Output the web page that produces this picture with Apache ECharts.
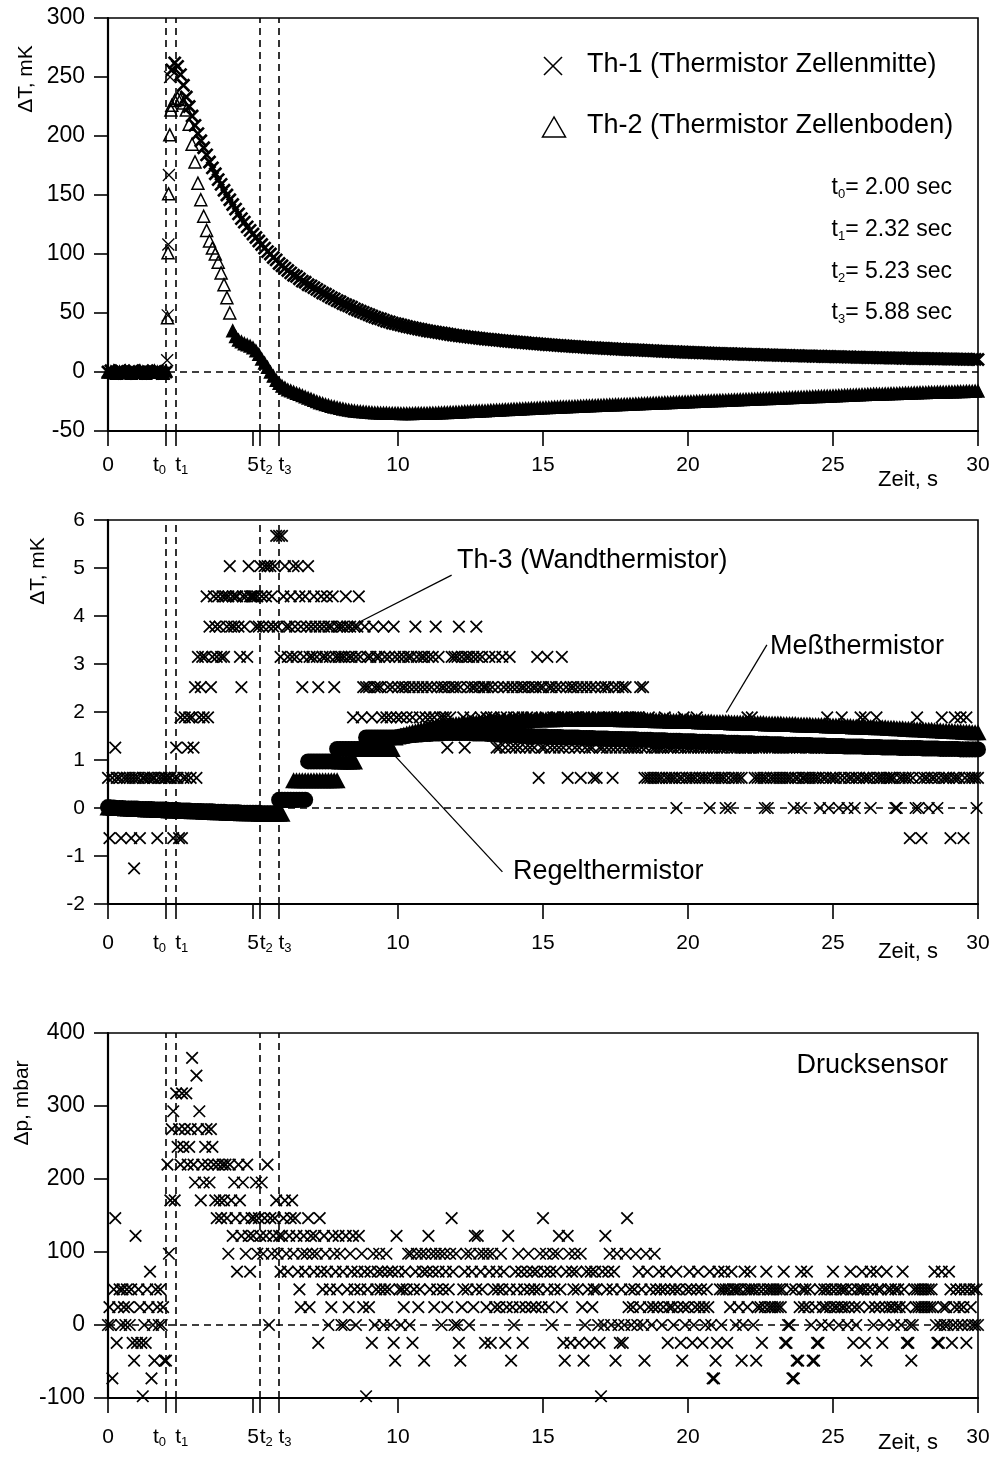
<!DOCTYPE html>
<html>
<head>
<meta charset="utf-8">
<title>Thermistor- und Drucksignale</title>
<script src="https://cdn.jsdelivr.net/npm/echarts@6/dist/echarts.min.js"></script>
<style>
  html, body { margin: 0; padding: 0; background: #fff; }
  #chart { width: 994px; height: 1457px; }
</style>
</head>
<body>
<div id="chart"></div>
<script>
// ---------------------------------------------------------------
// Measured signals after the pulse (time axis in seconds)
// ---------------------------------------------------------------

// event times t0..t3 (s)
const markTimes = [2.00, 2.32, 5.23, 5.88];
// x-axis tick positions (s)
const xTickValues = [0, 2.00, 2.32, 5, 5.23, 5.88, 10, 15, 20, 25, 30];

// sampling steps (s)
const DT_CURVE = 0.1;   // Th-1, Th-2, Regel-/Meßthermistor
const DT_RAW = 0.05;    // Th-3 and pressure sensor (raw ADC counts)

// --- Panel 1: Th-1 (Zellenmitte), mK -------------------------------
const th1Base = [0,1,-1,0,1,0,-1,0,0,1,-1,0,1,0,0,-1,0,1,0,-1,0];          // t = 0 .. 2.0
const th1Rise = [[2.04,10],[2.06,48],[2.08,108],[2.10,167],[2.14,250]];   // [t, mK]
const th1Decay = [                                                       // t = 2.2 .. 30.0
  256,262,259,252,243,233,225,217,209,
  202,196,190,184,178,173,168,163,159,154,
  150,146,142,138,134,130,127,123,120,117,
  114,111,108,105,102,100,97,95,92,90,
  88,86,84,82,81,79,77,76,74,73,
  71.5,70,68.5,67,66,64.5,63,62,60.5,59.5,
  58,57,56,55,53.5,52.5,51.5,50.5,49.5,48.5,
  47.5,46.5,45.5,45,44,43,42.5,41.5,41,40.5,
  39.8,39.2,38.6,38,37.5,37,36.5,36,35.5,35,
  34.6,34.2,33.8,33.4,33,32.6,32.2,31.8,31.4,31,
  30.7,30.4,30.1,29.8,29.5,29.2,28.9,28.6,28.3,28,
  27.8,27.5,27.3,27,26.8,26.6,26.3,26.1,25.9,25.6,
  25.4,25.2,25,24.8,24.5,24.3,24.1,23.9,23.7,23.5,
  23.3,23.1,23,22.8,22.6,22.4,22.2,22.1,21.9,21.7,
  21.6,21.4,21.3,21.1,20.9,20.8,20.6,20.5,20.3,20.2,
  20.1,19.9,19.8,19.7,19.5,19.4,19.3,19.2,19,18.9,
  18.8,18.7,18.6,18.5,18.3,18.2,18.1,18,17.9,17.7,
  17.6,17.5,17.4,17.3,17.2,17.1,17,16.9,16.8,16.7,
  16.6,16.5,16.4,16.3,16.2,16.2,16.1,16,15.9,15.8,
  15.7,15.6,15.6,15.5,15.4,15.3,15.2,15.2,15.1,15,
  14.9,14.9,14.8,14.7,14.6,14.6,14.5,14.4,14.4,14.3,
  14.2,14.2,14.1,14,14,13.9,13.8,13.8,13.7,13.6,
  13.6,13.5,13.4,13.4,13.3,13.3,13.2,13.1,13.1,13,
  12.9,12.9,12.8,12.8,12.7,12.7,12.6,12.5,12.5,12.4,
  12.4,12.3,12.3,12.2,12.2,12.1,12.1,12,12,11.9,
  11.9,11.8,11.8,11.7,11.7,11.6,11.6,11.5,11.5,11.4,
  11.4,11.3,11.3,11.3,11.2,11.2,11.1,11.1,11.1,11,
  11,10.9,10.9,10.9,10.8,10.8,10.7,10.7,10.7,10.6
];

// --- Panel 1: Th-2 (Zellenboden), mK -------------------------------
const th2Base = [0,0,1,-1,0,0,1,0,-1,0,0,1,0,-1,0,0,1,0,0,-1,1];          // t = 0 .. 2.0
const th2Rise = [[2.05,46],[2.07,101],[2.09,151],[2.13,201],[2.17,222]];  // [t, mK]
const th2Decay = [                                                       // t = 2.2 .. 30.0
  226,230,232,231,228,222,210,193,178,
  160,146,132,120,111,105,100,93,84,74,
  63,50,35,30,27,25.5,24,23,22,20.5,
  18,15,11,7.5,4,0,-3.5,-7,-9.5,-12,
  -13.5,-15,-16,-17,-18,-19,-20,-21,-22,-23,
  -24,-25,-26,-26.8,-27.5,-28.2,-29,-29.6,-30.2,-30.8,
  -31.3,-31.8,-32.2,-32.6,-33,-33.3,-33.6,-33.8,-34,-34.2,
  -34.4,-34.5,-34.6,-34.7,-34.8,-34.9,-35,-35,-35.1,-35.1,
  -35.2,-35.2,-35.2,-35.2,-35.2,-35.1,-35.1,-35.1,-35,-35,
  -34.9,-34.8,-34.7,-34.6,-34.5,-34.4,-34.3,-34.2,-34.1,-34,
  -33.9,-33.8,-33.6,-33.5,-33.4,-33.3,-33.2,-33,-32.9,-32.8,
  -32.7,-32.5,-32.4,-32.3,-32.2,-32,-31.9,-31.8,-31.7,-31.5,
  -31.4,-31.3,-31.2,-31,-30.9,-30.8,-30.7,-30.5,-30.4,-30.3,
  -30.2,-30.1,-30,-29.8,-29.7,-29.6,-29.5,-29.4,-29.3,-29.2,
  -29.1,-29,-28.9,-28.8,-28.7,-28.6,-28.5,-28.4,-28.3,-28.2,
  -28.1,-28,-27.9,-27.8,-27.7,-27.6,-27.5,-27.4,-27.3,-27.2,
  -27.1,-27,-26.9,-26.8,-26.7,-26.6,-26.5,-26.4,-26.3,-26.2,
  -26.1,-26,-25.9,-25.8,-25.7,-25.6,-25.5,-25.4,-25.3,-25.2,
  -25.1,-25,-24.9,-24.8,-24.7,-24.6,-24.5,-24.4,-24.3,-24.2,
  -24.1,-24,-23.9,-23.8,-23.7,-23.6,-23.5,-23.4,-23.3,-23.2,
  -23.1,-23,-22.9,-22.8,-22.7,-22.6,-22.5,-22.4,-22.3,-22.2,
  -22.1,-22,-21.9,-21.8,-21.7,-21.6,-21.5,-21.4,-21.3,-21.2,
  -21.1,-21,-20.9,-20.8,-20.7,-20.6,-20.5,-20.4,-20.3,-20.2,
  -20.1,-20,-19.9,-19.8,-19.7,-19.6,-19.5,-19.4,-19.3,-19.2,
  -19.1,-19,-18.9,-18.8,-18.7,-18.7,-18.6,-18.5,-18.4,-18.3,
  -18.2,-18.2,-18.1,-18,-17.9,-17.8,-17.8,-17.7,-17.6,-17.5,
  -17.5,-17.4,-17.3,-17.2,-17.2,-17.1,-17,-16.9,-16.9,-16.8,
  -16.7,-16.7,-16.6,-16.5,-16.5,-16.4,-16.3,-16.3,-16.2,-16.1
];

// --- Panel 2: Regelthermistor, mK (t = 0 .. 30, step DT_CURVE) ------
const regel = [
  0.02,0.01,0.01,0,0,0,-0.01,-0.01,-0.01,-0.01,
  -0.01,-0.02,-0.02,-0.02,-0.02,-0.02,-0.03,-0.03,-0.03,-0.03,
  -0.03,-0.04,-0.04,-0.04,-0.04,-0.05,-0.05,-0.05,-0.05,-0.06,
  -0.06,-0.06,-0.06,-0.07,-0.07,-0.07,-0.07,-0.08,-0.08,-0.08,
  -0.08,-0.09,-0.09,-0.09,-0.09,-0.09,-0.1,-0.1,-0.1,-0.1,
  -0.1,-0.1,-0.1,-0.11,-0.11,-0.11,-0.11,-0.11,-0.11,
  0.17,0.17,0.17,0.17,0.17,0.17,0.17,0.17,0.17,0.17,
  0.97,0.97,0.97,0.97,0.97,0.97,0.97,0.97,0.97,0.97,
  1.23,1.23,1.23,1.23,1.23,1.23,1.23,1.23,1.23,1.23,
  1.47,1.47,1.47,1.47,1.47,1.47,1.47,1.47,1.47,1.47,1.47,
  1.48,1.49,1.5,1.5,1.51,1.52,1.52,1.53,1.53,1.54,
  1.54,1.54,1.55,1.55,1.55,1.55,1.56,1.56,1.56,1.56,
  1.56,1.56,1.56,1.56,1.56,1.56,1.55,1.55,1.55,1.55,
  1.55,1.54,1.54,1.54,1.53,1.53,1.53,1.52,1.52,1.52,
  1.52,1.51,1.51,1.51,1.5,1.5,1.5,1.49,1.49,1.49,
  1.49,1.49,1.48,1.48,1.48,1.48,1.48,1.47,1.47,1.47,
  1.47,1.47,1.47,1.46,1.46,1.46,1.46,1.46,1.45,1.45,
  1.45,1.45,1.45,1.44,1.44,1.44,1.44,1.44,1.43,1.43,
  1.43,1.43,1.43,1.42,1.42,1.42,1.42,1.42,1.41,1.41,
  1.41,1.41,1.41,1.4,1.4,1.4,1.4,1.4,1.39,1.39,
  1.39,1.39,1.39,1.38,1.38,1.38,1.38,1.38,1.37,1.37,
  1.37,1.37,1.37,1.36,1.36,1.36,1.36,1.36,1.35,1.35,
  1.35,1.35,1.35,1.34,1.34,1.34,1.34,1.34,1.33,1.33,
  1.33,1.33,1.33,1.32,1.32,1.32,1.32,1.32,1.31,1.31,
  1.31,1.31,1.31,1.3,1.3,1.3,1.3,1.3,1.29,1.29,
  1.29,1.29,1.29,1.29,1.28,1.28,1.28,1.28,1.28,1.28,
  1.28,1.27,1.27,1.27,1.27,1.27,1.27,1.26,1.26,1.26,
  1.26,1.26,1.26,1.25,1.25,1.25,1.25,1.25,1.25,1.25,
  1.25,1.24,1.24,1.24,1.24,1.24,1.24,1.23,1.23,1.23,
  1.23,1.23,1.23,1.23,1.22,1.22,1.22,1.22,1.22,1.22,
  1.22
];

// --- Panel 2: Meßthermistor, mK (t = 0 .. 30, step DT_CURVE) --------
const mess = [
  0.01,0.01,0,0,0,0,-0.01,-0.01,-0.01,-0.02,
  -0.02,-0.02,-0.02,-0.03,-0.03,-0.03,-0.03,-0.04,-0.04,-0.04,
  -0.04,-0.05,-0.05,-0.05,-0.05,-0.06,-0.06,-0.06,-0.06,-0.07,
  -0.07,-0.07,-0.07,-0.08,-0.08,-0.08,-0.08,-0.09,-0.09,-0.09,
  -0.09,-0.1,-0.1,-0.1,-0.1,-0.1,-0.11,-0.11,-0.11,-0.11,
  -0.11,-0.11,-0.12,-0.12,-0.12,-0.12,-0.12,-0.12,-0.12,-0.12,-0.12,
  0.17,0.17,0.17,
  0.58,0.58,0.58,0.58,0.58,0.58,0.58,0.58,0.58,0.58,0.58,0.58,0.58,0.58,0.58,0.58,
  0.97,0.97,0.97,0.97,0.97,0.97,
  1.23,1.23,1.23,1.23,1.23,1.23,1.23,1.23,1.23,1.23,1.23,1.23,1.23,
  1.47,
  1.49,1.51,1.53,1.55,1.57,1.59,1.6,1.62,1.63,1.64,
  1.66,1.67,1.68,1.69,1.7,1.71,1.72,1.72,1.73,1.74,
  1.75,1.75,1.76,1.76,1.77,1.77,1.78,1.78,1.79,1.79,
  1.8,1.8,1.8,1.81,1.81,1.81,1.82,1.82,1.82,1.83,
  1.83,1.83,1.83,1.84,1.84,1.84,1.84,1.84,1.85,1.85,
  1.85,1.85,1.85,1.85,1.85,1.86,1.86,1.86,1.86,1.86,
  1.86,1.86,1.86,1.86,1.86,1.86,1.86,1.86,1.86,1.86,
  1.86,1.86,1.86,1.86,1.86,1.86,1.86,1.85,1.85,1.85,
  1.85,1.85,1.85,1.85,1.84,1.84,1.84,1.84,1.84,1.83,
  1.83,1.83,1.83,1.83,1.82,1.82,1.82,1.82,1.82,1.81,
  1.81,1.81,1.81,1.81,1.8,1.8,1.8,1.8,1.8,1.79,
  1.79,1.79,1.79,1.79,1.79,1.78,1.78,1.78,1.78,1.78,
  1.78,1.78,1.77,1.77,1.77,1.77,1.77,1.76,1.76,1.76,
  1.76,1.76,1.76,1.75,1.75,1.75,1.75,1.75,1.74,1.74,
  1.74,1.74,1.74,1.73,1.73,1.73,1.73,1.73,1.72,1.72,
  1.72,1.72,1.72,1.71,1.71,1.71,1.71,1.7,1.7,1.7,
  1.7,1.7,1.69,1.69,1.69,1.68,1.68,1.68,1.68,1.67,
  1.67,1.67,1.66,1.66,1.66,1.65,1.65,1.65,1.64,1.64,
  1.64,1.64,1.63,1.63,1.63,1.62,1.62,1.62,1.61,1.61,
  1.61,1.61,1.6,1.6,1.6,1.59,1.59,1.59,1.58,1.58,
  1.58
];

// --- Panel 2: Th-3 (Wandthermistor), ADC counts, 1 count = TH3_LSB mK
const TH3_LSB = 0.63;
const th3Counts = [
  1,-1,0,1,0,2,1,0,1,-1,0,1,0,1,0,1,-1,1,-2,1,
  0,1,-1,0,1,1,0,1,0,1,0,1,1,0,-1,1,0,1,0,1,
  1,0,1,1,0,-1,1,2,1,-1,3,-1,1,3,1,2,3,1,3,2,
  4,1,5,3,4,5,3,5,7,3,6,4,5,7,6,5,7,6,5,7,
  5,7,6,7,8,6,7,6,7,7,6,5,4,7,6,7,5,8,7,7,
  7,7,6,7,6,8,7,6,8,7,8,6,8,7,6,8,9,6,9,5,
  9,7,8,6,5,6,7,5,8,6,5,8,7,6,4,5,7,6,8,5,
  6,5,7,6,5,4,6,7,5,6,5,7,6,5,6,7,4,5,6,5,
  6,5,6,5,7,6,5,6,5,3,6,5,6,7,5,3,4,6,4,5,
  4,5,3,6,4,5,4,5,4,3,6,5,3,4,5,3,4,6,5,3,
  4,5,3,4,5,4,3,5,4,5,3,4,6,5,4,3,5,4,5,3,
  4,5,3,4,5,3,6,4,5,3,4,3,4,3,2,4,3,5,4,5,
  4,5,6,4,5,3,2,5,4,5,3,4,5,4,6,5,4,3,5,4,
  4,3,4,5,3,4,3,5,2,4,2,3,5,4,2,3,4,5,2,4,
  3,2,4,3,2,4,3,4,2,3,4,2,3,4,2,4,5,1,4,2,
  4,2,3,5,4,2,4,3,2,4,3,2,4,5,2,3,4,1,2,4,
  3,4,2,3,4,2,1,4,3,2,4,3,2,4,2,1,4,1,3,2,
  4,2,3,4,2,4,3,2,1,4,2,3,4,2,3,4,2,4,3,2,
  3,2,3,2,3,2,3,4,2,4,1,2,1,3,1,2,1,2,1,2,
  1,2,1,2,3,1,2,1,2,1,2,1,0,2,1,2,1,3,2,1,
  2,1,2,1,2,1,3,2,1,2,1,2,1,2,1,0,2,1,2,1,
  2,1,2,1,2,1,0,2,1,0,2,1,2,1,2,1,2,1,2,2,
  2,3,2,2,3,2,1,2,1,2,1,2,1,0,1,0,2,1,2,1,
  2,1,2,1,2,1,2,1,2,1,2,1,2,0,1,2,1,2,0,1,
  1,2,1,2,1,2,1,2,1,2,1,0,2,1,2,1,3,0,1,2,
  1,2,1,2,0,1,3,2,1,2,0,1,2,1,2,0,1,2,1,3,
  2,1,3,1,2,1,0,2,1,2,3,1,2,1,2,1,2,1,2,1,
  1,2,1,0,0,2,1,2,1,2,1,2,1,-1,2,1,2,0,3,0,
  1,-1,2,1,2,1,0,2,1,2,1,2,0,1,2,3,1,2,1,2,
  1,-1,2,1,3,1,2,1,3,2,-1,1,3,2,1,2,1,2,1,0,
  1
];

// --- Panel 3: Drucksensor, ADC counts, 1 count = P_LSB mbar ---------
const P_LSB = 24.4;
const pCounts = [
  0,1,0,-3,2,6,-1,1,2,0,2,1,0,2,1,0,2,-1,-2,5,
  -1,2,1,-1,-4,0,-1,2,1,3,-3,0,-2,2,1,0,2,0,1,-2,
  -2,9,4,7,11,12,7,13,10,11,9,13,10,11,13,9,10,11,15,9,
  8,14,11,12,7,9,8,10,11,9,8,11,10,9,7,6,9,7,6,9,
  7,9,6,4,9,7,5,8,6,3,9,7,5,8,6,4,9,5,3,6,
  5,6,8,4,6,5,8,4,6,5,9,0,6,4,5,6,7,4,5,3,
  5,6,7,4,3,5,6,7,4,6,5,3,2,1,4,5,3,4,6,1,
  5,4,3,5,4,-1,6,3,2,5,4,3,0,2,1,5,4,3,2,5,
  4,0,3,0,5,2,1,4,3,5,2,0,3,5,2,4,1,3,-4,2,
  1,3,-1,4,0,2,3,4,2,3,0,2,4,3,2,0,3,-1,-2,5,
  3,2,0,2,1,3,2,4,0,4,-1,2,3,4,1,2,4,3,-2,4,
  3,5,2,4,3,1,4,2,3,4,0,2,4,3,1,2,4,6,3,0,
  4,0,-1,-2,1,2,3,4,2,0,4,3,1,5,2,5,4,3,2,4,
  -1,1,4,3,-1,4,2,1,3,2,1,4,2,3,-1,1,5,2,-2,1,
  0,3,2,4,1,3,-1,2,1,3,4,2,1,3,2,1,3,2,4,1,
  6,3,4,2,1,3,0,4,2,3,4,5,2,1,-1,-2,3,5,4,-1,
  3,2,4,3,2,-1,4,1,-2,0,3,2,-1,3,1,2,3,2,0,-1,
  -4,3,0,5,2,3,4,0,2,3,-2,4,0,-1,2,-1,0,4,6,1,
  2,0,1,2,4,0,3,1,2,0,-2,4,3,1,2,0,1,4,2,1,
  3,2,0,1,2,3,-1,1,2,1,0,2,3,1,2,-1,-2,1,0,2,
  1,3,2,-1,0,1,2,3,1,2,-1,1,0,2,1,3,0,-3,-3,-2,
  -1,3,2,0,2,3,2,-1,2,1,3,2,2,0,2,1,2,-2,0,3,
  2,1,2,3,2,0,2,-2,1,2,1,-1,2,1,3,2,1,2,1,2,
  1,2,1,2,1,2,3,-1,-1,0,0,2,-3,-3,2,-2,-2,1,3,2,
  1,2,3,1,2,0,-2,-2,1,-1,-1,2,0,1,2,1,2,0,1,2,
  3,1,2,1,0,2,1,2,1,2,0,1,3,2,-1,1,0,2,1,2,
  3,2,-1,-2,2,1,3,2,0,1,3,2,1,2,-1,0,1,3,2,1,
  2,1,0,2,1,2,1,0,3,2,1,-1,-1,0,-2,0,2,1,2,1,
  2,1,2,1,2,1,2,1,2,1,3,0,-1,-1,0,3,1,0,1,0,
  3,2,-1,0,1,2,0,1,2,0,1,2,-1,0,2,1,0,2,0,2,
  0
];

// leader lines of the panel-2 annotations, [t, mK] from label to curve
const th3Leader = [[11.85, 4.85], [8.69, 3.88]];
const messLeader = [[22.72, 3.40], [21.32, 1.99]];
const regelLeader = [[13.6, -1.33], [9.72, 1.20]];

// ---------------------------------------------------------------
// helpers
// ---------------------------------------------------------------
const FONT = '"Liberation Sans", Arial, Helvetica, sans-serif';
const INK = '#000';
const CROSS = 'path://M0,0L10,10M10,0L0,10';

// pair a regularly sampled series with its time stamps
function sampled(values, tStart, dt) {
  return values.map((v, i) => [+(tStart + i * dt).toFixed(3), v]);
}
// convert ADC counts to physical units
function scaled(counts, lsb, dt) {
  return counts.map((c, i) => [+(i * dt).toFixed(3), +(c * lsb).toFixed(3)]);
}

// thin outline for the isolated samples of the fast rise
const thinStroke = p => ({ value: p, itemStyle: { borderWidth: 1.3 } });
// Th-2: open triangles while the samples are still spread out, solid where they pile up
const TH2_OPEN_BEFORE = 4.3;
const th2Item = p => p[0] < TH2_OPEN_BEFORE
  ? { value: p }
  : { value: p, itemStyle: { color: INK, borderWidth: 1.4 } };

const th1Data = sampled(th1Base, 0, DT_CURVE)
  .concat(th1Rise.map(thinStroke), sampled(th1Decay, 2.2, DT_CURVE));
const th2Data = sampled(th2Base, 0, DT_CURVE).map(p => ({ value: p, itemStyle: { color: INK } }))
  .concat(th2Rise.map(p => ({ value: p })), sampled(th2Decay, 2.2, DT_CURVE).map(th2Item));
const regelData = sampled(regel, 0, DT_CURVE);
const messData = sampled(mess, 0, DT_CURVE);
const th3Data = scaled(th3Counts, TH3_LSB, DT_RAW);
const pData = scaled(pCounts, P_LSB, DT_RAW);

// tick labels: plain numbers and subscripted event times
const tickLabel = {};
xTickValues.forEach(v => { tickLabel[v.toFixed(2)] = '{m|' + v + '}'; });
markTimes.forEach((t, i) => {
  tickLabel[t.toFixed(2)] = i === 0 ? '{m|t}{s|' + i + '}{g|}' : '{g|}{m|t}{s|' + i + '}';
});

const GRIDS = [
  { left: 108, top: 18, width: 870, height: 413 },
  { left: 108, top: 520, width: 870, height: 384 },
  { left: 108, top: 1033, width: 870, height: 365 }
];
const Y_RANGES = [
  { min: -50, max: 300, interval: 50 },
  { min: -2, max: 6, interval: 1 },
  { min: -100, max: 400, interval: 100 }
];
const X_LABEL_MARGIN = [22, 27, 27];
const Y_LABEL_SIZE = [23, 21, 23];

const xAxes = GRIDS.map((g, k) => ({
  type: 'value', gridIndex: k, min: 0, max: 30, interval: 5,
  splitLine: { show: false },
  axisLine: { show: true, onZero: false, lineStyle: { color: INK, width: 2.2 } },
  axisTick: { show: true, inside: false, length: 15, customValues: xTickValues,
              lineStyle: { color: INK, width: 1.6 } },
  axisLabel: {
    show: true, margin: X_LABEL_MARGIN[k], customValues: xTickValues,
    color: INK, fontFamily: FONT, fontSize: 21,
    formatter: v => tickLabel[(+v).toFixed(2)] || '{m|' + v + '}',
    rich: {
      m: { fontFamily: FONT, fontSize: 21, color: INK, lineHeight: 24, verticalAlign: 'middle' },
      s: { fontFamily: FONT, fontSize: 13, color: INK, lineHeight: 13, verticalAlign: 'bottom' },
      g: { width: 13 }
    }
  }
}));

const yAxes = GRIDS.map((g, k) => ({
  type: 'value', gridIndex: k,
  min: Y_RANGES[k].min, max: Y_RANGES[k].max, interval: Y_RANGES[k].interval,
  splitLine: { show: false },
  axisLine: { show: true, onZero: false, lineStyle: { color: INK, width: 2.2 } },
  axisTick: { show: true, inside: false, length: 14, lineStyle: { color: INK, width: 1.6 } },
  axisLabel: { margin: 23, color: INK, fontFamily: FONT, fontSize: Y_LABEL_SIZE[k] }
}));

// dashed guides at t0..t3 and at zero
function guides(k) {
  return {
    type: 'line', xAxisIndex: k, yAxisIndex: k, data: [], z: 1, silent: true,
    markLine: {
      silent: true, symbol: ['none', 'none'], animation: false,
      label: { show: false },
      lineStyle: { color: INK, width: 1.6, type: [7, 5] },
      emphasis: { disabled: true },
      data: markTimes.map(t => ({ xAxis: t })).concat([{ yAxis: 0 }])
    }
  };
}

function crossSeries(name, k, data, size, stroke) {
  return {
    name, type: 'scatter', xAxisIndex: k, yAxisIndex: k, data, z: 3,
    symbol: CROSS, symbolSize: size, silent: true,
    itemStyle: { color: 'rgba(0,0,0,0)', borderColor: INK, borderWidth: stroke, opacity: 1 },
    emphasis: { disabled: true }
  };
}

function leader(k, pts) {
  return {
    type: 'line', xAxisIndex: k, yAxisIndex: k, data: pts, z: 5, silent: true,
    symbol: 'none', lineStyle: { color: INK, width: 1.3 }, emphasis: { disabled: true }
  };
}

const series = [
  guides(0),
  {
    name: 'Th-2 (Thermistor Zellenboden)', type: 'scatter', xAxisIndex: 0, yAxisIndex: 0,
    data: th2Data, z: 3, symbol: 'triangle', symbolSize: [12, 12], silent: true,
    itemStyle: { color: 'rgba(0,0,0,0)', borderColor: INK, borderWidth: 1.5, opacity: 1 },
    emphasis: { disabled: true }
  },
  crossSeries('Th-1 (Thermistor Zellenmitte)', 0, th1Data, 12, 2.7),

  guides(1),
  crossSeries('Th-3 (Wandthermistor)', 1, th3Data, 11.5, 1.75),
  {
    name: 'Meßthermistor', type: 'scatter', xAxisIndex: 1, yAxisIndex: 1,
    data: messData, z: 4, symbol: 'triangle', symbolSize: [17, 16], silent: true,
    itemStyle: { color: INK, opacity: 1 }, emphasis: { disabled: true }
  },
  {
    name: 'Regelthermistor', type: 'scatter', xAxisIndex: 1, yAxisIndex: 1,
    data: regelData, z: 4, symbol: 'circle', symbolSize: 16, silent: true,
    itemStyle: { color: INK, opacity: 1 }, emphasis: { disabled: true }
  },
  leader(1, th3Leader),
  leader(1, messLeader),
  leader(1, regelLeader),

  guides(2),
  crossSeries('Drucksensor', 2, pData, 11.5, 1.75)
];

// ---------------------------------------------------------------
// texts: axis titles, legend, event times, annotations
// ---------------------------------------------------------------
function txt(text, x, y, opts) {
  return {
    type: 'text', z: 10, silent: true, rotation: (opts && opts.rotation) || 0, x, y,
    style: Object.assign({
      text, fill: INK, fontFamily: FONT, fontSize: 21,
      align: 'left', verticalAlign: 'middle'
    }, opts && opts.style)
  };
}

const subRich = {
  m: { fontFamily: FONT, fontSize: 23, fill: INK, lineHeight: 26, verticalAlign: 'middle' },
  s: { fontFamily: FONT, fontSize: 13, fill: INK, lineHeight: 14, verticalAlign: 'bottom' }
};
const eventY = [188, 230, 272, 313];

const graphic = [
  // rotated axis titles
  txt('ΔT, mK', 26, 79, { rotation: Math.PI / 2, style: { align: 'center', fontSize: 21 } }),
  txt('ΔT, mK', 38, 571, { rotation: Math.PI / 2, style: { align: 'center', fontSize: 21 } }),
  txt('Δp, mbar', 22, 1103, { rotation: Math.PI / 2, style: { align: 'center', fontSize: 21 } }),

  // x-axis titles
  txt('Zeit, s', 878, 480, { style: { fontSize: 22 } }),
  txt('Zeit, s', 878, 952, { style: { fontSize: 22 } }),
  txt('Zeit, s', 878, 1443, { style: { fontSize: 22 } }),

  // legend of panel 1
  { type: 'line', z: 10, silent: true, shape: { x1: 544, y1: 57, x2: 562, y2: 75 },
    style: { stroke: INK, lineWidth: 1.6 } },
  { type: 'line', z: 10, silent: true, shape: { x1: 562, y1: 57, x2: 544, y2: 75 },
    style: { stroke: INK, lineWidth: 1.6 } },
  { type: 'polygon', z: 10, silent: true,
    shape: { points: [[554, 117], [542.5, 137], [565.5, 137]] },
    style: { fill: 'none', stroke: INK, lineWidth: 1.5 } },
  txt('Th-1 (Thermistor Zellenmitte)', 587, 65, { style: { fontSize: 27 } }),
  txt('Th-2 (Thermistor Zellenboden)', 587, 126, { style: { fontSize: 27 } }),

  // event times
  ...markTimes.map((t, i) => txt('{m|t}{s|' + i + '}{m|= ' + t.toFixed(2) + ' sec}', 952, eventY[i],
    { style: { align: 'right', fontSize: 23, rich: subRich } })),

  // annotations
  txt('Th-3 (Wandthermistor)', 457, 561, { style: { fontSize: 27 } }),
  txt('Meßthermistor', 770, 647, { style: { fontSize: 27 } }),
  txt('Regelthermistor', 513, 872, { style: { fontSize: 27 } }),
  txt('Drucksensor', 948, 1066, { style: { fontSize: 27, align: 'right' } })
];

const chart = echarts.init(document.getElementById('chart'), null, { renderer: 'canvas' });
chart.setOption({
  animation: false,
  backgroundColor: '#fff',
  textStyle: { fontFamily: FONT, color: INK },
  grid: GRIDS.map(g => Object.assign({ show: true, borderColor: INK, borderWidth: 1.6,
                                       backgroundColor: 'transparent', containLabel: false }, g)),
  xAxis: xAxes,
  yAxis: yAxes,
  series,
  graphic
});
</script>
</body>
</html>
